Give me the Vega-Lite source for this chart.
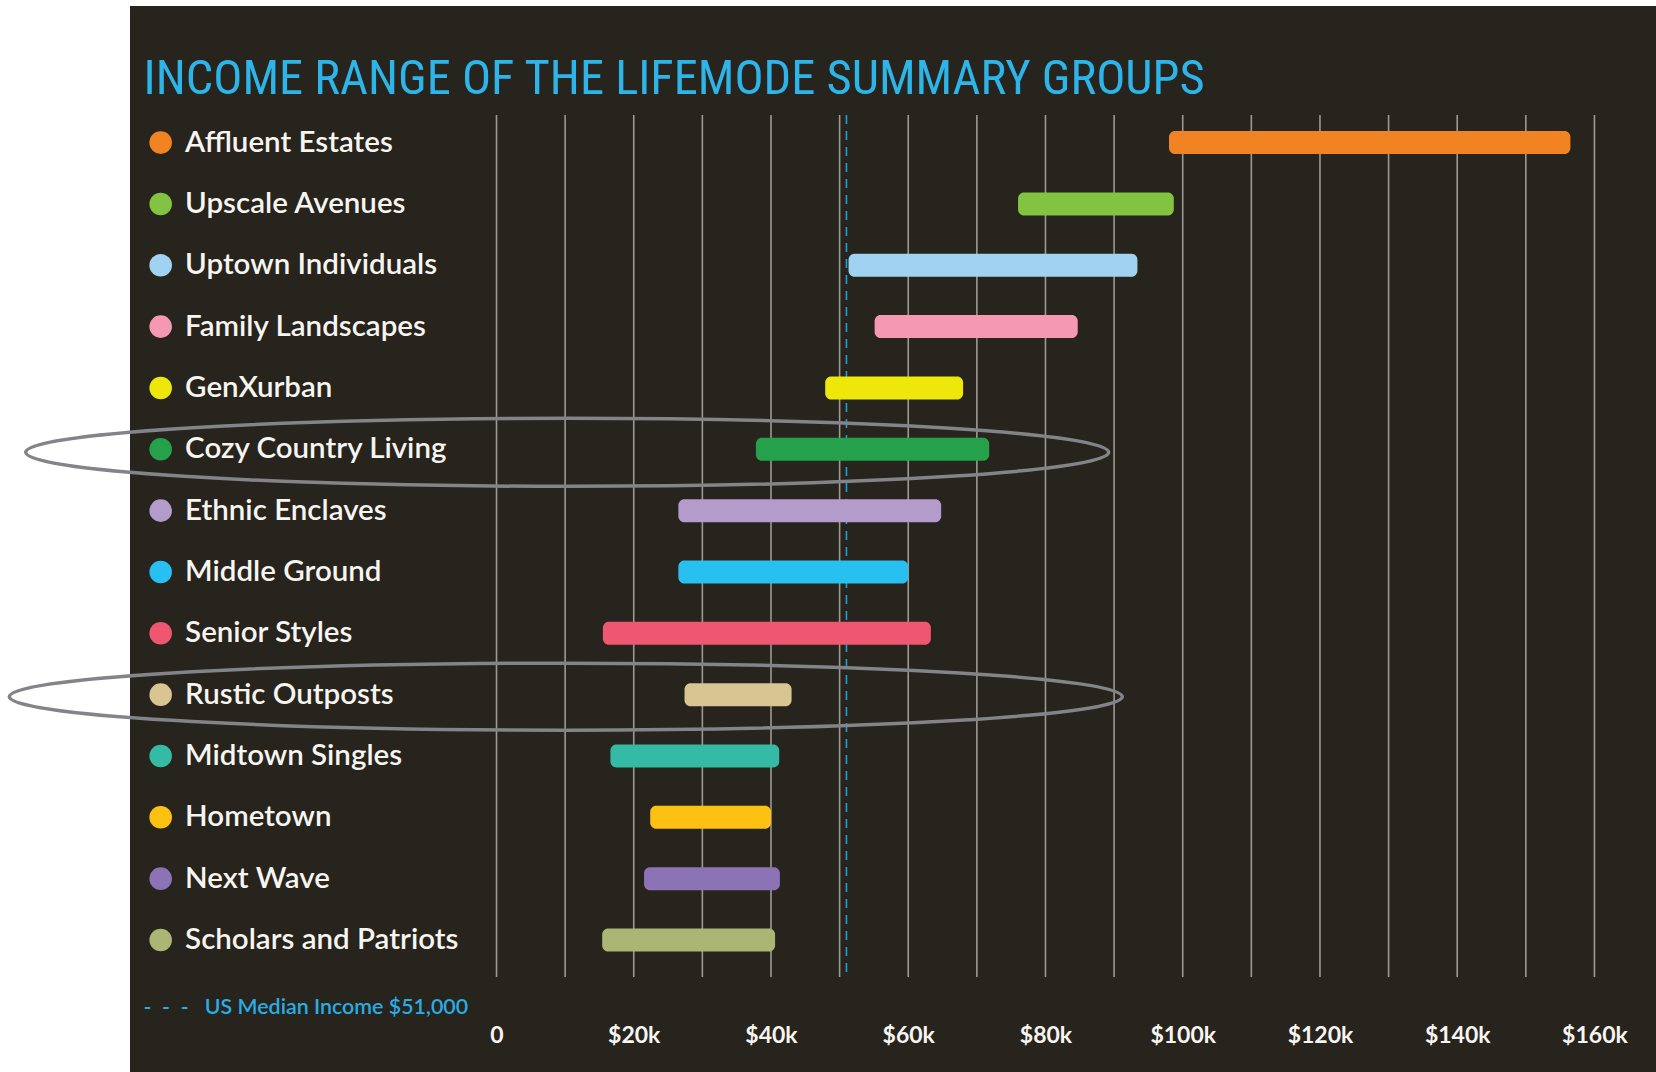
{
  "$schema": "https://vega.github.io/schema/vega-lite/v6.json",
  "width": 1526,
  "height": 1066,
  "autosize": {"type": "none"},
  "padding": {"left": 130, "top": 6, "right": 0, "bottom": 0},
  "background": "#ffffff",
  "view": {"fill": "#27231d", "stroke": null},
  "title": {
    "text": "INCOME RANGE OF THE LIFEMODE SUMMARY GROUPS",
    "anchor": "start",
    "frame": "group",
    "orient": "top",
    "offset": -136,
    "dx": 13.6,
    "baseline": "alphabetic",
    "color": "#2db4e8",
    "font": "Roboto Condensed, DejaVu Sans Condensed, Liberation Sans Narrow, sans-serif",
    "fontSize": 48.5,
    "fontWeight": 400
  },
  "datasets": {
    "groups": [
      {"group": "Affluent Estates", "low": 98000, "high": 156500},
      {"group": "Upscale Avenues", "low": 76000, "high": 98700},
      {"group": "Uptown Individuals", "low": 51300, "high": 93400},
      {"group": "Family Landscapes", "low": 55100, "high": 84700},
      {"group": "GenXurban", "low": 47900, "high": 68000},
      {"group": "Cozy Country Living", "low": 37800, "high": 71800},
      {"group": "Ethnic Enclaves", "low": 26500, "high": 64800},
      {"group": "Middle Ground", "low": 26500, "high": 60000},
      {"group": "Senior Styles", "low": 15500, "high": 63300},
      {"group": "Rustic Outposts", "low": 27400, "high": 43000},
      {"group": "Midtown Singles", "low": 16600, "high": 41200},
      {"group": "Hometown", "low": 22400, "high": 40000},
      {"group": "Next Wave", "low": 21500, "high": 41300},
      {"group": "Scholars and Patriots", "low": 15400, "high": 40600}
    ],
    "grid": [
      {"income": 0}, {"income": 10000}, {"income": 20000}, {"income": 30000},
      {"income": 40000}, {"income": 50000}, {"income": 60000}, {"income": 70000},
      {"income": 80000}, {"income": 90000}, {"income": 100000}, {"income": 110000},
      {"income": 120000}, {"income": 130000}, {"income": 140000}, {"income": 150000},
      {"income": 160000}
    ],
    "median": [{"label": "US Median Income", "income": 51000}]
  },
  "layer": [
    {
      "data": {"name": "grid"},
      "mark": {"type": "rule", "color": "#9c9a95", "strokeWidth": 1.6, "yOffset": -27.6, "y2Offset": 37},
      "encoding": {
        "x": {"field": "income", "type": "quantitative"},
        "y": {"datum": "Affluent Estates", "type": "nominal"},
        "y2": {"datum": "Scholars and Patriots"}
      }
    },
    {
      "data": {"name": "median"},
      "mark": {"type": "rule", "color": "#1d9fd0", "strokeWidth": 1.6, "strokeDash": [9, 7], "yOffset": -27.6, "y2Offset": 37},
      "encoding": {
        "x": {"field": "income", "type": "quantitative"},
        "y": {"datum": "Affluent Estates", "type": "nominal"},
        "y2": {"datum": "Scholars and Patriots"}
      }
    },
    {
      "data": {"name": "groups"},
      "mark": {"type": "bar", "cornerRadius": 6},
      "encoding": {
        "y": {
          "field": "group",
          "type": "nominal",
          "scale": {
            "type": "band",
            "domain": ["Affluent Estates", "Upscale Avenues", "Uptown Individuals", "Family Landscapes", "GenXurban", "Cozy Country Living", "Ethnic Enclaves", "Middle Ground", "Senior Styles", "Rustic Outposts", "Midtown Singles", "Hometown", "Next Wave", "Scholars and Patriots"],
            "range": [125.1, 945.5],
            "paddingInner": 0.625,
            "paddingOuter": 0,
            "round": false
          },
          "axis": {
            "title": null,
            "domain": false,
            "ticks": false,
            "tickSize": 0,
            "grid": false,
            "offset": -54.6,
            "labelPadding": 0,
            "labelAlign": "left",
            "labelBaseline": "middle",
            "labelFont": "Lato",
            "labelFontSize": 29.5,
            "labelFontWeight": 600,
            "labelColor": "#f7f5f0",
            "labelLimit": 500
          }
        },
        "x": {
          "field": "low",
          "type": "quantitative",
          "scale": {"domain": [-53410, 168970], "nice": false, "zero": false},
          "axis": {
            "values": [0, 20000, 40000, 60000, 80000, 100000, 120000, 140000, 160000],
            "labelExpr": "datum.value == 0 ? '0' : '$' + datum.value / 1000 + 'k'",
            "domain": false,
            "ticks": false,
            "tickSize": 0,
            "grid": false,
            "offset": -30,
            "labelPadding": 0,
            "labelBaseline": "alphabetic",
            "labelFlush": false,
            "labelOverlap": false,
            "labelFont": "Lato",
            "labelFontSize": 23,
            "labelFontWeight": "bold",
            "labelColor": "#f7f5f0",
            "title": "-\u00a0\u00a0-\u00a0\u00a0-\u00a0\u00a0\u00a0US Median Income $51,000",
            "titleX": 13,
            "titleY": -28.7,
            "titleAlign": "left",
            "titleAnchor": "start",
            "titleBaseline": "alphabetic",
            "titleColor": "#29ade2",
            "titleFont": "Lato",
            "titleFontSize": 21.4,
            "titleFontWeight": 600
          }
        },
        "x2": {"field": "high"},
        "color": {
          "field": "group",
          "type": "nominal",
          "legend": null,
          "scale": {
            "domain": ["Affluent Estates", "Upscale Avenues", "Uptown Individuals", "Family Landscapes", "GenXurban", "Cozy Country Living", "Ethnic Enclaves", "Middle Ground", "Senior Styles", "Rustic Outposts", "Midtown Singles", "Hometown", "Next Wave", "Scholars and Patriots"],
            "range": ["#f28322", "#82c341", "#a0d3f2", "#f598b2", "#ede80a", "#26a14b", "#b39ccc", "#28c0f0", "#ef5670", "#d9c591", "#35bba5", "#fdc111", "#8b73b6", "#abb674"]
          }
        }
      }
    },
    {
      "data": {"name": "groups"},
      "mark": {"type": "point", "filled": true, "opacity": 1, "size": 510, "shape": "circle"},
      "encoding": {
        "y": {"field": "group", "type": "nominal"},
        "x": {"datum": -48940, "type": "quantitative"},
        "color": {"field": "group", "type": "nominal", "legend": null}
      }
    },
    {
      "data": {"name": "groups"},
      "transform": [{"filter": "datum.group == 'Cozy Country Living'"}],
      "mark": {
        "type": "point",
        "filled": false,
        "opacity": 1,
        "stroke": "#828489",
        "strokeWidth": 3.5,
        "size": 1172889,
        "yOffset": 3,
        "shape": "M-1,0C-1,-0.03468,-0.5523,-0.0628,0,-0.0628C0.5523,-0.0628,1,-0.03468,1,0C1,0.03468,0.5523,0.0628,0,0.0628C-0.5523,0.0628,-1,0.03468,-1,0Z"
      },
      "encoding": {
        "y": {"field": "group", "type": "nominal"},
        "x": {"datum": 10300, "type": "quantitative"}
      }
    },
    {
      "data": {"name": "groups"},
      "transform": [{"filter": "datum.group == 'Rustic Outposts'"}],
      "mark": {
        "type": "point",
        "filled": false,
        "opacity": 1,
        "stroke": "#828489",
        "strokeWidth": 3.5,
        "size": 1238769,
        "yOffset": 2,
        "shape": "M-1,0C-1,-0.03325,-0.5523,-0.0602,0,-0.0602C0.5523,-0.0602,1,-0.03325,1,0C1,0.03325,0.5523,0.0602,0,0.0602C-0.5523,0.0602,-1,0.03325,-1,0Z"
      },
      "encoding": {
        "y": {"field": "group", "type": "nominal"},
        "x": {"datum": 10100, "type": "quantitative"}
      }
    }
  ]
}
